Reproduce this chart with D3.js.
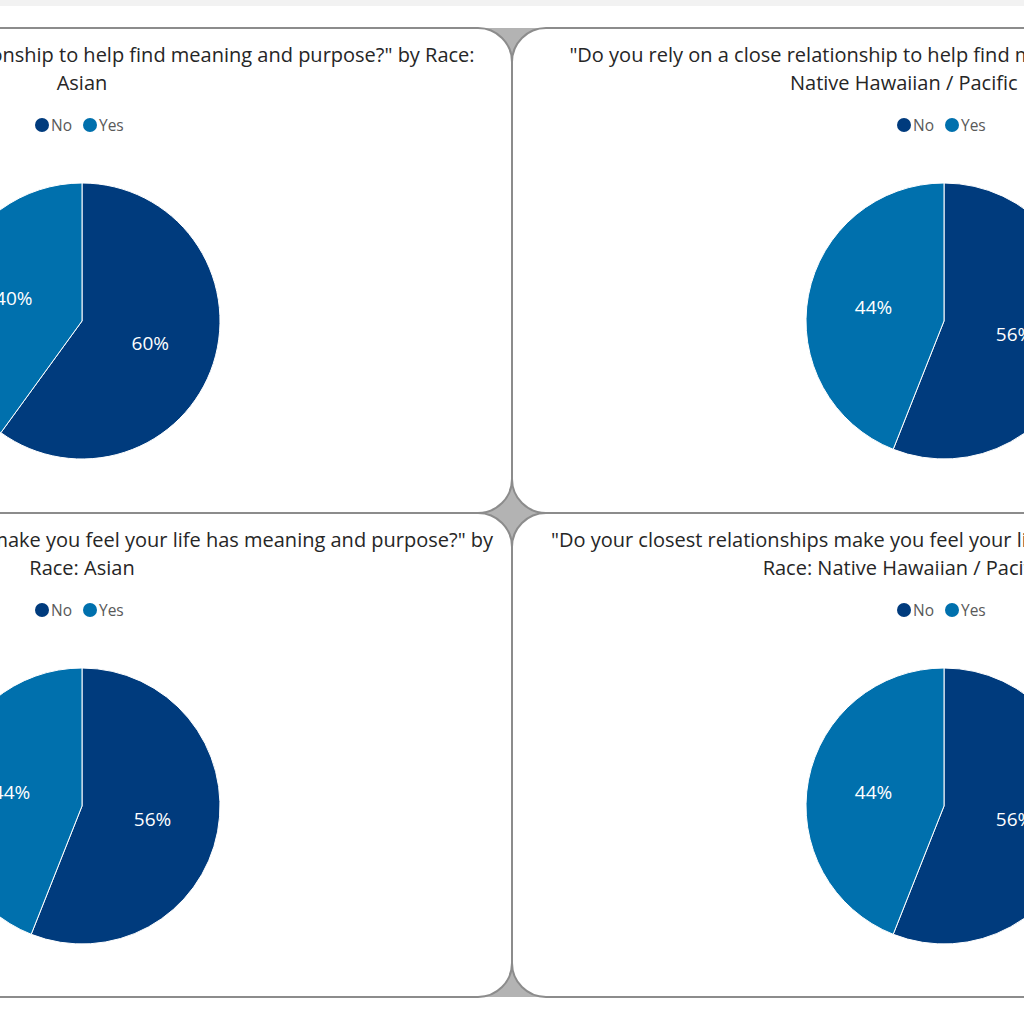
<!DOCTYPE html><html><head><meta charset="utf-8"><script src="https://cdn.jsdelivr.net/npm/d3@7"></script>
<style>body{margin:0;background:#fff}svg{display:block}</style></head><body><svg id="c" width="1024" height="1024"></svg>
<script>
const categories=["No","Yes"];
const panelTitles=[
 ['"Do you rely on a close relationship to help find meaning and purpose?" by Race:','Asian'],
 ['"Do you rely on a close relationship to help find meaning and purpose?" by Race:','Native Hawaiian / Pacific Islander'],
 ['"Do your closest relationships make you feel your life has meaning and purpose?" by','Race: Asian'],
 ['"Do your closest relationships make you feel your life has meaning and purpose?" by','Race: Native Hawaiian / Pacific Islander']];
const valuesTL=[60,40], valuesTR=[56,44], valuesBL=[56,44], valuesBR=[56,44];
const allValues=[valuesTL,valuesTR,valuesBL,valuesBR];
const colors=["#003b7d","#0070ad"];
const svg=d3.select("#c");
svg.append("rect").attr("width",1024).attr("height",6).attr("fill","#f2f2f2");
const W=864, H=484, R=34;
const panels=[{x:512-W,y:28},{x:512,y:28},{x:512-W,y:513},{x:512,y:513}];
svg.append("rect").attr("x",300).attr("y",28).attr("width",424).attr("height",969).attr("fill","#b3b3b3");
panels.forEach((p,i)=>{
 const g=svg.append("g").attr("transform",`translate(${p.x},${p.y})`);
 g.append("rect").attr("width",W).attr("height",H+(i<2?1:0)).attr("rx",R).attr("fill","#fff").attr("stroke","#8c8c8c").attr("stroke-width",2);
});
panels.forEach((p,i)=>{
 const cx=(i%2==0)?82:944, top=p.y;
 const g=svg.append("g");
 panelTitles[i].forEach((t,k)=>g.append("text").attr("x",cx+(k==0&&i%2==0?18:0)).attr("y",top+34+k*28).attr("text-anchor","middle")
  .attr("font-family","Open Sans").attr("font-size",20).attr("fill","#262626").text(t));
 const lg=g.append("g").attr("transform",`translate(${cx},${top+97})`);
 categories.forEach((c,k)=>{
  const ox=k==0?-40:8;
  lg.append("circle").attr("cx",ox).attr("cy",0).attr("r",7).attr("fill",colors[k]);
  lg.append("text").attr("x",ox+9).attr("y",5.5).attr("font-family","Open Sans").attr("font-size",15.5).attr("fill","#595959").text(c);
 });
 const cy=top+293, r=138;
 const pie=d3.pie().sort(null)(allValues[i]);
 const arc=d3.arc().innerRadius(0).outerRadius(r);
 const la=d3.arc().innerRadius(r*0.52).outerRadius(r*0.52);
 const pg=g.append("g").attr("transform",`translate(${cx},${cy})`);
 pg.selectAll("path").data(pie).join("path").attr("d",arc).attr("fill",(d,k)=>colors[k]).attr("stroke","#fff").attr("stroke-width",1);
 pg.selectAll("text").data(pie).join("text").attr("transform",d=>`translate(${la.centroid(d)})`).attr("text-anchor","middle").attr("dy","0.35em")
  .attr("font-family","Open Sans").attr("font-size",19).attr("fill","#fff").text(d=>d.data+"%");
});
</script></body></html>
